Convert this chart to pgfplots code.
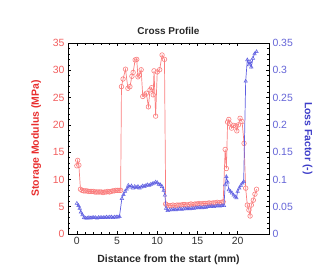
\documentclass[border=0pt]{standalone}
\usepackage{pgfplots}
\pgfplotsset{compat=1.18}
\usepackage{fontspec}
\setmainfont{Liberation Sans}
\definecolor{redline}{RGB}{250,125,125}
\definecolor{redtick}{RGB}{242,95,95}
\definecolor{redlab}{RGB}{232,45,45}
\definecolor{blueline}{RGB}{95,95,225}
\definecolor{bluetick}{RGB}{100,100,215}
\definecolor{bluelab}{RGB}{60,60,200}
\definecolor{titlec}{RGB}{40,40,40}
\begin{document}
\begin{tikzpicture}
\useasboundingbox (-68bp,-36bp) rectangle (260bp,234bp);
\pgfplotsset{
  every axis/.append style={
    width=201bp, height=191bp, scale only axis,
    xmin=-1.1, xmax=23.9,
    /pgf/number format/assume math mode=true,
    tick label style={font=\fontsize{10.5}{12}\selectfont},
    tick align=inside,
    major tick length=3.5pt, minor tick length=2pt,
    every tick/.style={black, line width=0.6pt},
    axis line style={black, line width=1pt},
  }
}
\begin{axis}[
  ymin=0, ymax=35,
  xtick={0,5,10,15,20}, minor x tick num=4,
  ytick={0,5,...,35}, minor y tick num=4,
  xtick pos=both, ytick pos=left,
  yticklabel style={text=redtick},
  xticklabel style={text=black!80},
  xlabel={\bfseries Distance from the start (mm)},
  xlabel style={font=\fontsize{10.5}{12}\selectfont, text=black!85, yshift=-3pt},
  ylabel={\bfseries Storage Modulus (MPa)},
  ylabel style={font=\fontsize{10.5}{12}\selectfont, text=redlab, yshift=5pt},
  title={\bfseries Cross Profile},
  title style={font=\fontsize{10}{12}\selectfont, text=titlec, yshift=-1pt},
]
\addplot[redline, line width=0.7pt, mark=o, mark size=2.3pt, mark options={line width=0.6pt}] coordinates {
(0.0,12.5) (0.1,13.5) (0.25,12.6)
(0.45,8.2) (0.65,8.0) (0.85,7.9) (1.05,7.9) (1.25,7.9) (1.45,7.8) (1.65,7.8) (1.85,7.8) (2.05,7.8) (2.25,7.7)
(2.45,7.7) (2.65,7.7) (2.85,7.7) (3.05,7.7) (3.25,7.6) (3.45,7.7) (3.65,7.7) (3.85,7.8) (4.05,7.7) (4.25,7.8)
(4.45,7.9) (4.65,7.9) (4.85,8.0) (5.05,8.0) (5.25,8.0) (5.45,8.0)
(5.55,27.0) (5.75,28.4) (6.05,30.2) (6.35,26.7) (6.6,27.0) (6.85,28.9) (7.0,29.6) (7.25,31.9) (7.45,32.0)
(7.6,28.8) (7.75,29.1) (8.0,30.1) (8.2,25.2) (8.45,25.5) (8.65,25.8) (8.9,23.3) (9.1,26.4) (9.3,26.8)
(9.5,25.5) (9.6,29.9) (9.8,21.6) (10.0,29.7) (10.3,30.1) (10.6,32.8) (10.9,32.0)
(11.05,5.5) (11.2,5.3) (11.45,5.2) (11.7,5.2) (11.95,5.3) (12.2,5.2) (12.45,5.3) (12.7,5.3) (12.95,5.3)
(13.2,5.4) (13.45,5.4) (13.7,5.3) (13.95,5.4) (14.2,5.5) (14.45,5.4) (14.7,5.5) (14.95,5.5) (15.2,5.6)
(15.45,5.5) (15.7,5.6) (15.95,5.6) (16.2,5.6) (16.45,5.7) (16.7,5.6) (16.95,5.7) (17.2,5.7) (17.45,5.8)
(17.7,5.7) (17.95,5.8) (18.2,5.9)
(18.45,15.5) (18.6,12.0) (18.75,20.5) (18.9,21.0) (19.05,20.2) (19.25,19.4) (19.5,19.9) (19.75,19.8)
(19.9,18.9) (20.1,20.0) (20.3,21.2) (20.55,20.6) (20.8,16.6) (21.0,8.4) (21.2,5.3) (21.4,4.4) (21.55,3.3)
(21.7,5.3) (21.95,6.2) (22.15,7.3) (22.35,8.2)
};
\end{axis}
\begin{axis}[
  ymin=0, ymax=0.35,
  axis x line=none,
  axis y line*=right,
  ytick={0,0.05,...,0.35}, minor y tick num=4,
  scaled y ticks=false,
  yticklabel style={text=bluetick, /pgf/number format/fixed, /pgf/number format/precision=2},
  ylabel={\bfseries Loss Factor (-)},
  ylabel style={font=\fontsize{10.5}{12}\selectfont, text=bluelab, rotate=180, yshift=3pt},
]
\addplot[blueline, line width=0.7pt, mark=triangle, mark size=2pt, mark options={line width=0.5pt}] coordinates {
(0.0,0.056) (0.2,0.052) (0.35,0.047) (0.5,0.040) (0.7,0.035)
(0.9,0.030) (1.1,0.029) (1.3,0.029) (1.5,0.030) (1.7,0.029) (1.9,0.030) (2.1,0.030) (2.3,0.030) (2.5,0.029)
(2.7,0.030) (2.9,0.030) (3.1,0.030) (3.3,0.030) (3.5,0.030) (3.7,0.031) (3.9,0.030) (4.1,0.031) (4.3,0.031)
(4.5,0.030) (4.7,0.031) (4.9,0.031) (5.1,0.031) (5.3,0.032)
(5.6,0.065) (5.8,0.072) (6.0,0.078) (6.2,0.082) (6.4,0.089) (6.6,0.086) (6.8,0.088) (7.0,0.084) (7.2,0.087)
(7.4,0.085) (7.6,0.087) (7.8,0.084) (8.0,0.086) (8.2,0.088) (8.4,0.087) (8.6,0.089) (8.8,0.090) (9.0,0.089)
(9.2,0.091) (9.4,0.092) (9.6,0.093) (9.8,0.095) (10.0,0.094) (10.2,0.091) (10.4,0.090) (10.6,0.087)
(10.8,0.080) (10.95,0.071)
(11.1,0.047) (11.3,0.043) (11.55,0.044) (11.8,0.044) (12.05,0.045) (12.3,0.044) (12.55,0.045) (12.8,0.046)
(13.05,0.045) (13.3,0.046) (13.55,0.046) (13.8,0.047) (14.05,0.046) (14.3,0.047) (14.55,0.047) (14.8,0.048)
(15.05,0.048) (15.3,0.049) (15.55,0.048) (15.8,0.049) (16.05,0.049) (16.3,0.050) (16.55,0.050) (16.8,0.051)
(17.05,0.050) (17.3,0.051) (17.55,0.052) (17.8,0.051) (18.05,0.052) (18.3,0.052)
(18.45,0.090) (18.6,0.105) (18.75,0.095) (18.9,0.081) (19.1,0.078) (19.3,0.075) (19.5,0.071) (19.7,0.068)
(19.85,0.066) (20.0,0.078) (20.2,0.084) (20.4,0.089) (20.6,0.093) (20.75,0.096)
(21.0,0.280) (21.2,0.319) (21.4,0.310) (21.55,0.316) (21.7,0.306) (21.9,0.322) (22.1,0.330) (22.35,0.334)
};
\end{axis}
\end{tikzpicture}
\end{document}
